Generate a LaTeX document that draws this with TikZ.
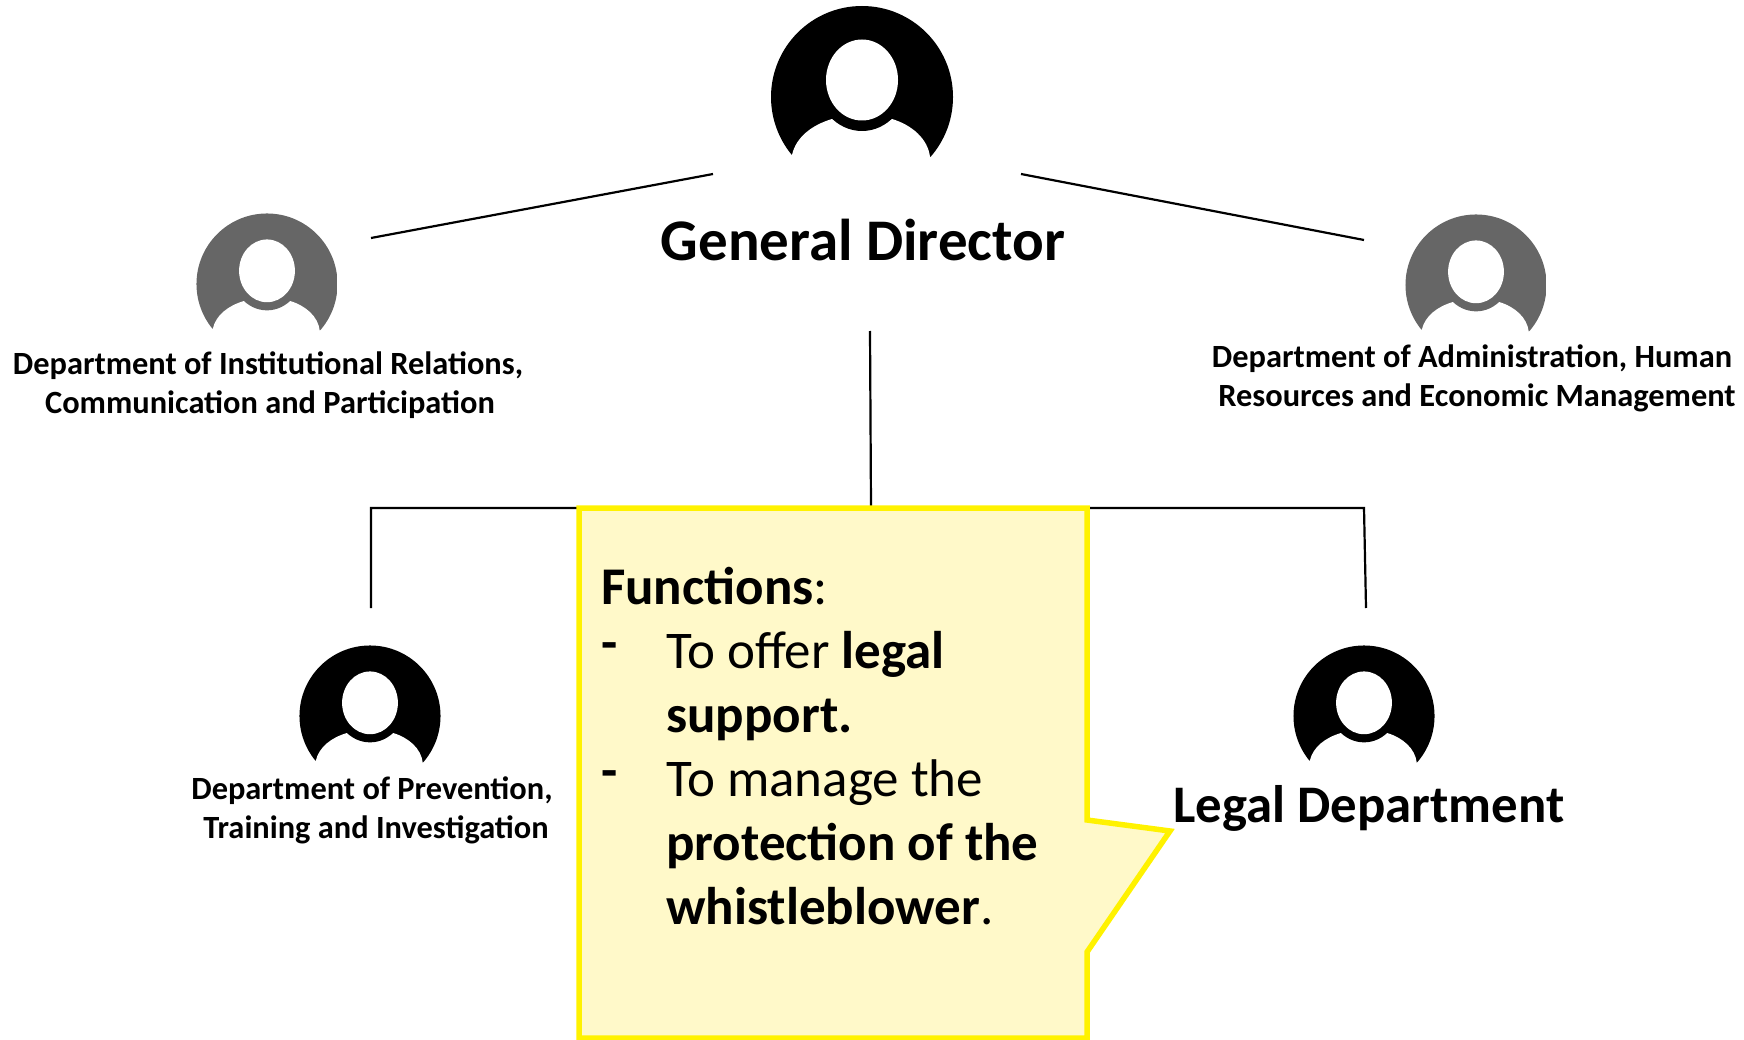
\documentclass[tikz,border=0pt]{standalone}
\usepackage{fontspec}
\setmainfont{Carlito}
\definecolor{calloutfill}{HTML}{FFF9C9}
\definecolor{calloutline}{HTML}{FFF200}
\definecolor{persongray}{HTML}{666666}
\tikzset{
  pics/person/.style={code={
    \fill[#1] (0,0) circle[radius=91];
    \fill[white] (-70,58) .. controls (-66,40) and (-50,28) .. (-30,22) -- (30,22)
      .. controls (50,28) and (66,42) .. (68,60) -- (100,60) -- (100,100) -- (-100,100) -- (-100,58) -- cycle;
    \fill[#1] (0,-17) ellipse[x radius=46,y radius=51];
    \fill[white] (0,-17) ellipse[x radius=36,y radius=40.5];
  }},
  line/.style={draw=black,line width=2.2pt},
  dept/.style={font=\fontsize{32.4}{39}\selectfont\bfseries,align=center,inner sep=0pt},
  deptb/.style={font=\fontsize{52.8}{56}\selectfont\bfseries,align=center,inner sep=0pt},
  callout/.style={draw=calloutline,fill=calloutfill,line width=5.5pt,line join=miter},
  calltext/.style={font=\fontsize{53}{64}\selectfont,align=left,inner sep=0pt,anchor=north west},
}
\newcommand{\dashmark}{\makebox[65pt][l]{\raisebox{8pt}{\bfseries -}}}
\begin{document}
\begin{tikzpicture}[x=1pt,y=-1pt]
\useasboundingbox (0,0) rectangle (1744,1040);
\pic[shift={(862,97)}] {person=black};
\pic[shift={(267,284)},scale=0.775] {person=persongray};
\pic[shift={(1476,285)},scale=0.775] {person=persongray};
\pic[shift={(370,716)},scale=0.775] {person=black};
\pic[shift={(1364,716)},scale=0.775] {person=black};
\fill[white] (337,200) rectangle (345,340);
\fill[white] (1546,200) rectangle (1556,340);

\coordinate (gl) at (713,174);
\coordinate (il) at (371,238);
\coordinate (gr) at (1021,174);
\coordinate (ar) at (1364,240);
\coordinate (gd) at (870,331);
\coordinate (jn) at (871,508);
\coordinate (bl) at (371,508);
\coordinate (br) at (1364,508);
\coordinate (pl) at (371,608);
\coordinate (pr) at (1366,608);
\draw[line] (gl) -- (il);
\draw[line] (gr) -- (ar);
\draw[line] (gd) -- (jn);
\draw[line] (pl) -- (bl) -- (br) -- (pr);

\node[inner sep=0pt,font=\fontsize{59}{62}\selectfont\bfseries] (dir) at (863,240) {General Director};
\node[dept] (inst) at (268,385) {Department of Institutional Relations,\\\hspace*{4pt}Communication and Participation};
\node[dept] (admin) at (1472,378) {Department of Administration, Human\\\hspace*{10pt}Resources and Economic Management};
\node[dept] (prev) at (372,810) {Department of Prevention,\\\hspace*{8pt}Training and Investigation};
\node[deptb] (legal) at (1369,808) {Legal Department};

\draw[callout] (579,508) -- (1087,508) -- (1087,820) -- (1170,831) -- (1087,952) -- (1087,1038) -- (579,1038) -- cycle;
\node[calltext] (fn) at (601,567) {{\bfseries Functions}:\\
\dashmark To offer {\bfseries legal}\\
\hspace*{65pt}{\bfseries support.}\\
\dashmark To manage the\\
\hspace*{65pt}{\bfseries protection of the}\\
\hspace*{65pt}{\bfseries whistleblower}.};
\end{tikzpicture}
\end{document}
